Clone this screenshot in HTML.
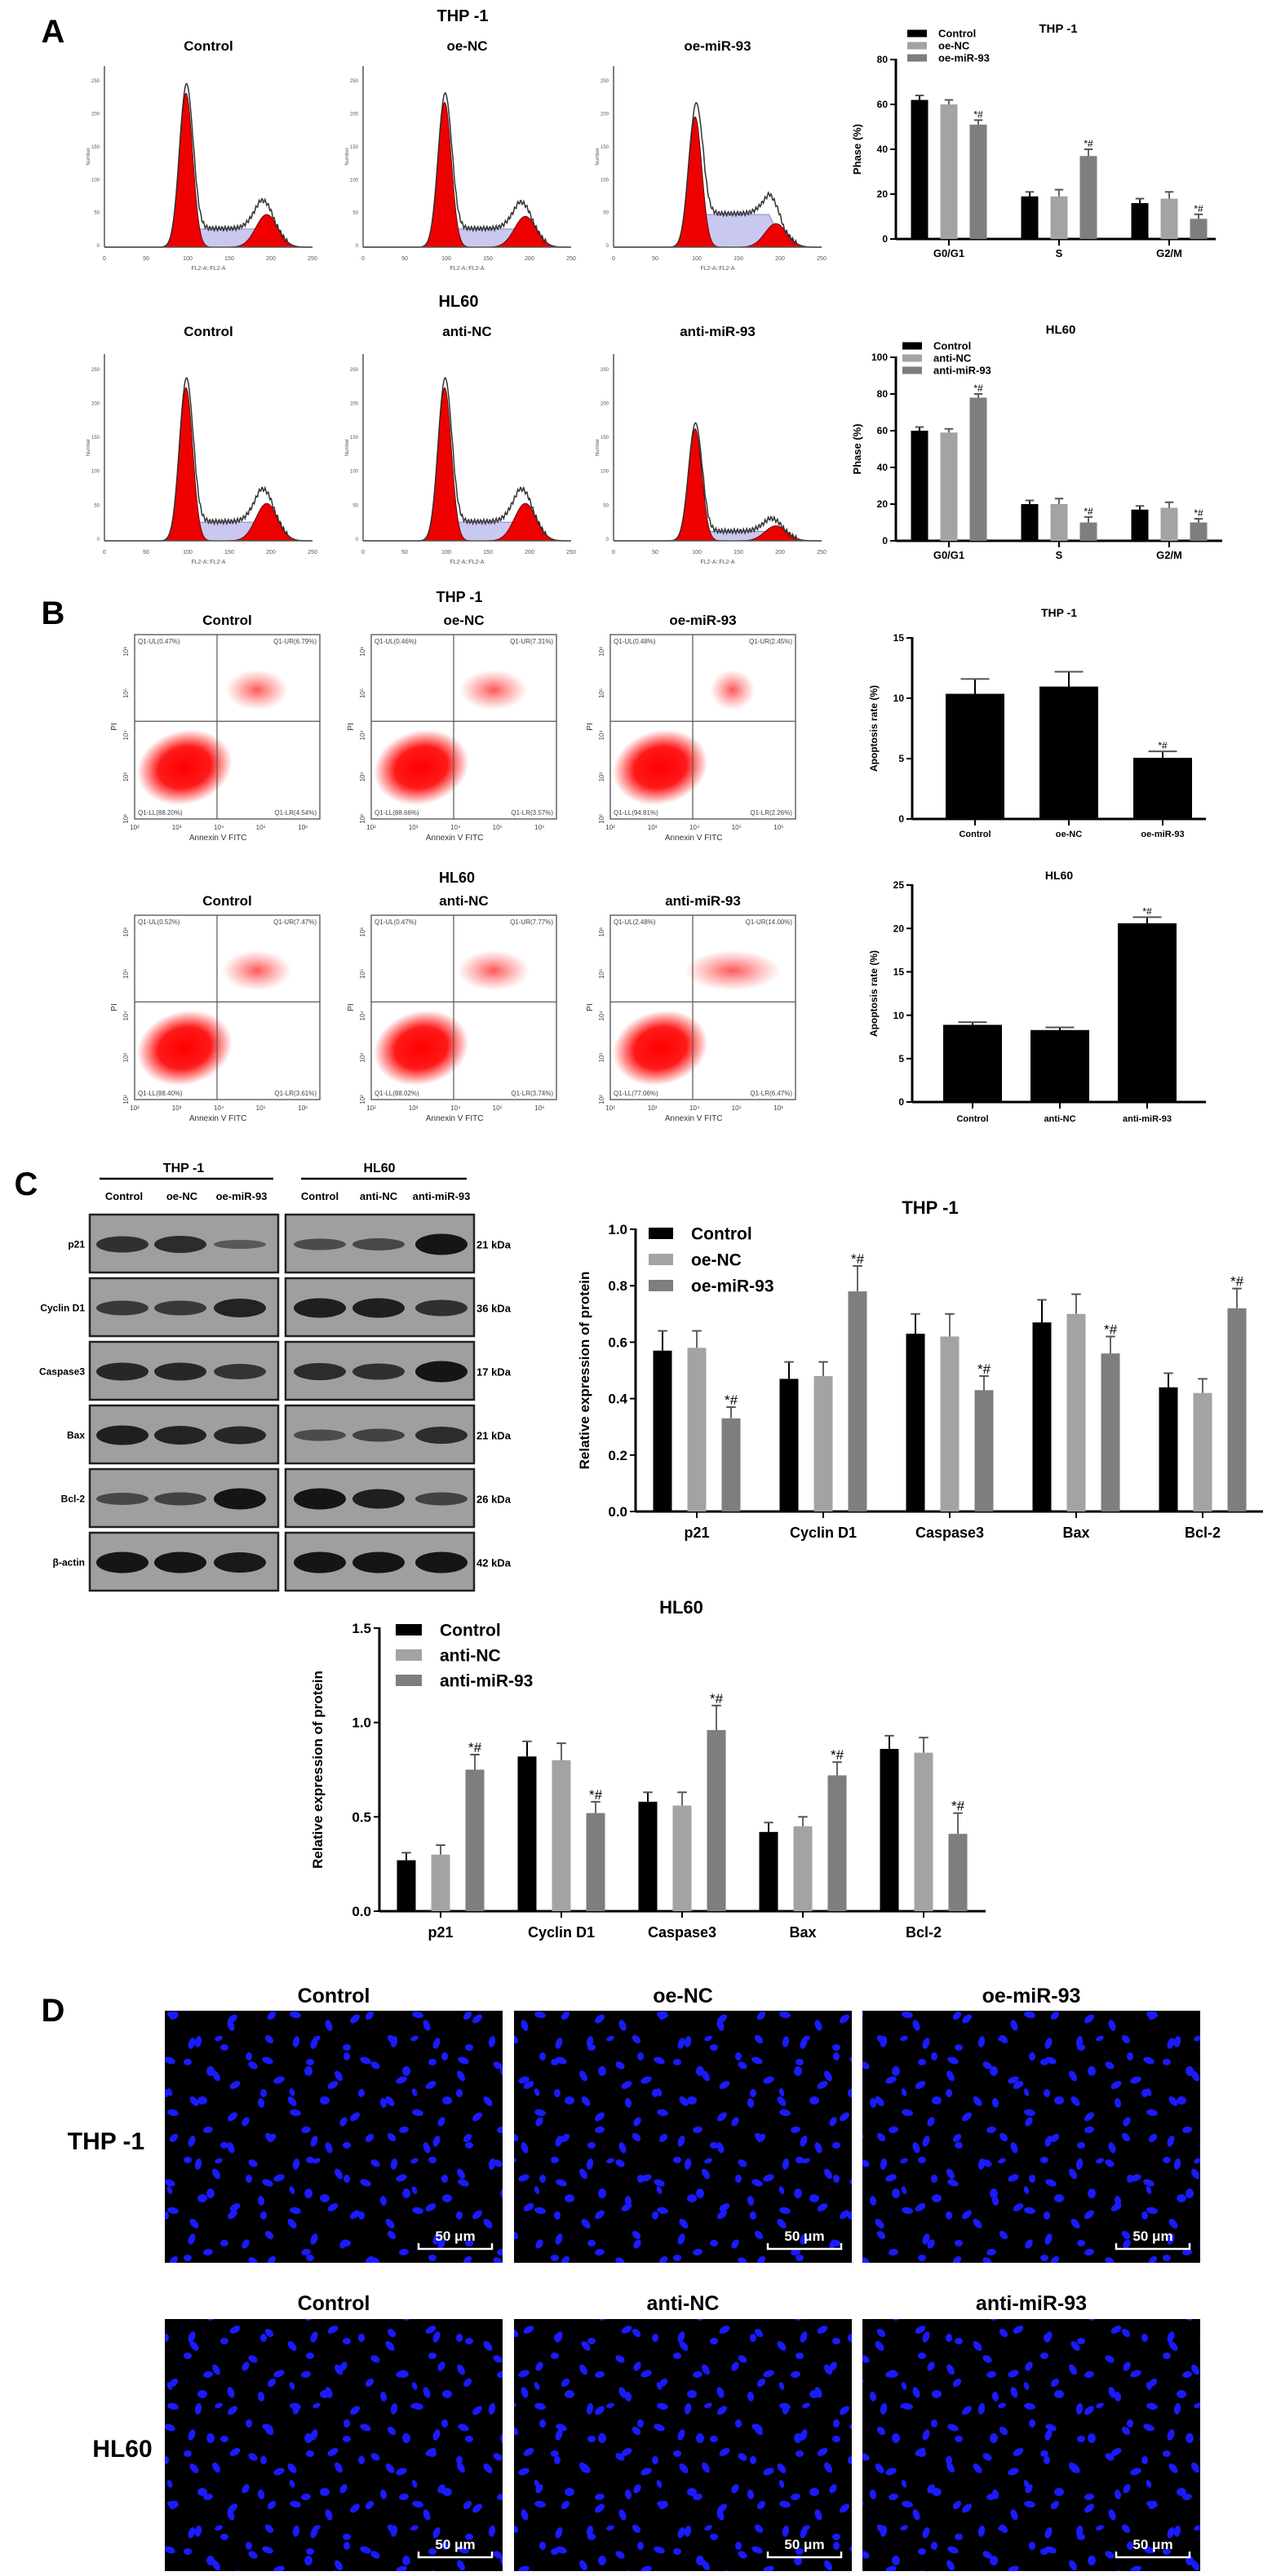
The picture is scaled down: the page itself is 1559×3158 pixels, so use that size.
<!DOCTYPE html>
<html><head><meta charset="utf-8">
<style>
html,body{margin:0;padding:0;background:#fff;}
svg{display:block;font-family:"Liberation Sans",Arial,sans-serif;}
</style></head>
<body>
<svg id="fig" width="1559" height="3158" viewBox="0 0 1559 3158" xmlns="http://www.w3.org/2000/svg">
<defs>
<pattern id="nuc" width="150" height="120" patternUnits="userSpaceOnUse">
<g fill="#1a1aff">
<ellipse cx="10" cy="12" rx="6" ry="4" transform="rotate(30 10 12)"/>
<ellipse cx="42" cy="30" rx="7" ry="4" transform="rotate(-20 42 30)"/>
<ellipse cx="80" cy="8" rx="5" ry="4"/>
<ellipse cx="115" cy="25" rx="7" ry="4" transform="rotate(60 115 25)"/>
<ellipse cx="20" cy="58" rx="6" ry="4" transform="rotate(80 20 58)"/>
<ellipse cx="62" cy="70" rx="7" ry="4" transform="rotate(10 62 70)"/>
<ellipse cx="98" cy="55" rx="6" ry="5"/>
<ellipse cx="135" cy="75" rx="7" ry="4" transform="rotate(-40 135 75)"/>
<ellipse cx="30" cy="100" rx="6" ry="4" transform="rotate(45 30 100)"/>
<ellipse cx="85" cy="105" rx="7" ry="4" transform="rotate(-70 85 105)"/>
<ellipse cx="125" cy="110" rx="5" ry="4"/>
<ellipse cx="58" cy="45" rx="5" ry="3" transform="rotate(70 58 45)"/>
</g>
</pattern>
<pattern id="nuc2" href="#nuc" patternTransform="translate(73,41) rotate(90)"/>
<radialGradient id="cloud"><stop offset="0" stop-color="#ff0000"/><stop offset="0.55" stop-color="#ff0000" stop-opacity="0.9"/><stop offset="1" stop-color="#ff0000" stop-opacity="0"/></radialGradient>
<radialGradient id="cloud2"><stop offset="0" stop-color="#ff2020" stop-opacity="0.75"/><stop offset="1" stop-color="#ff4040" stop-opacity="0"/></radialGradient>
</defs>
</svg>
<script>
const NS='http://www.w3.org/2000/svg';
const svg=document.getElementById('fig');
function mk(tag,attrs,parent,txt){const e=document.createElementNS(NS,tag);for(const k in attrs)e.setAttribute(k,attrs[k]);if(txt!==undefined)e.textContent=txt;(parent||svg).appendChild(e);return e;}
function T(x,y,s,size,anchor,name,extra){const e=mk('text',Object.assign({x:x,y:y,'font-size':size,'text-anchor':anchor||'middle','font-weight':'bold'},extra||{}),svg,s);


return e;}

// ---------- DATA ----------
const phaseCats=['G0/G1','S','G2/M'];
const thpPhaseCtrl=[62,19,16], thpPhaseNC=[60,19,18], thpPhaseMiR=[51,37,9];
const thpPhaseErr=[[2,2,2],[2,3,3],[2,3,2]];
const hlPhaseCtrl=[60,20,17], hlPhaseNC=[59,20,18], hlPhaseMiR=[78,10,10];
const hlPhaseErr=[[2,2,2],[2,3,3],[2,3,2]];
const thpPhaseTicks=[0,20,40,60,80];
const hlPhaseTicks=[0,20,40,60,80,100];
const apoCatsThp=['Control','oe-NC','oe-miR-93'];
const apoCatsHl=['Control','anti-NC','anti-miR-93'];
const thpApo=[10.3,10.9,5.0], thpApoErr=[1.3,1.3,0.6];
const hlApo=[8.8,8.2,20.5], hlApoErr=[0.4,0.4,0.8];
const thpApoTicks=[0,5,10,15];
const hlApoTicks=[0,5,10,15,20,25];
const protCats=['p21','Cyclin D1','Caspase3','Bax','Bcl-2'];
const thpProtCtrl=[0.57,0.47,0.63,0.67,0.44], thpProtNC=[0.58,0.48,0.62,0.70,0.42], thpProtMiR=[0.33,0.78,0.43,0.56,0.72];
const thpProtErr=[[0.07,0.06,0.07,0.08,0.05],[0.06,0.05,0.08,0.07,0.05],[0.04,0.09,0.05,0.06,0.07]];
const hlProtCtrl=[0.27,0.82,0.58,0.42,0.86], hlProtNC=[0.30,0.80,0.56,0.45,0.84], hlProtMiR=[0.75,0.52,0.96,0.72,0.41];
const hlProtErr=[[0.04,0.08,0.05,0.05,0.07],[0.05,0.09,0.07,0.05,0.08],[0.08,0.06,0.13,0.07,0.11]];
const thpProtTicks=['0.0','0.2','0.4','0.6','0.8','1.0'];
const hlProtTicks=['0.0','0.5','1.0','1.5'];
const histG1=[0.85,0.8,0.72,0.82,0.82,0.6];
const histS=[0.1,0.1,0.18,0.1,0.1,0.05];
const histG2=[0.18,0.17,0.13,0.2,0.2,0.08];
const dotUL=['0.47','0.46','0.48','0.52','0.47','2.48'];
const dotUR=['6.79','7.31','2.45','7.47','7.77','14.00'];
const dotLL=['88.20','88.66','94.81','88.40','88.02','77.06'];
const dotLR=['4.54','3.57','2.26','3.61','3.74','6.47'];
const blotRows=['p21','Cyclin D1','Caspase3','Bax','Bcl-2','β-actin'];
const blotKda=['21 kDa','36 kDa','17 kDa','21 kDa','26 kDa','42 kDa'];
const blotInt=[[0.7,0.75,0.25,0.4,0.45,1],[0.6,0.6,0.85,0.9,0.9,0.7],[0.8,0.8,0.65,0.75,0.7,1],[0.9,0.85,0.8,0.4,0.5,0.75],[0.45,0.5,1,1,0.9,0.5],[1,1,0.95,1,1,1]];

const COL=['#000000','#a3a3a3','#7e7e7e'];

function barChart(o){
 const g=mk('g',{});
 
 
 const y=v=>o.y0-(v-o.min)/(o.max-o.min)*(o.y0-o.y1);
 const ay=mk('line',{x1:o.ax,y1:o.y1-1,x2:o.ax,y2:o.y0,stroke:'#000','stroke-width':o.aw||3},g);
 
 
 const ax=mk('line',{x1:o.ax,y1:o.y0,x2:o.axEnd,y2:o.y0,stroke:'#000','stroke-width':o.aw||3},g);
 
 
 o.ticks.forEach(t=>{const yy=y(parseFloat(t));
  mk('line',{x1:o.ax-7,y1:yy,x2:o.ax,y2:yy,stroke:'#000','stroke-width':2},g);
  const tx=mk('text',{x:o.ax-10,y:yy+o.fs*0.35,'font-size':o.fs,'text-anchor':'end','font-weight':'bold'},g,t);
  
  
 });
 o.cats.forEach((c,i)=>{const cx=o.gx0+i*o.gstep;
  mk('line',{x1:cx,y1:o.y0,x2:cx,y2:o.y0+8,stroke:'#000','stroke-width':2},g);
  const tx=mk('text',{x:cx,y:o.y0+o.labDy,'font-size':o.lfs||o.fs,'text-anchor':'middle','font-weight':'bold'},g,c);
  
  
  o.series.forEach((s,j)=>{
   const v=s[i]; const bx=cx+(j-(o.series.length-1)/2)*o.bstep-o.bw/2;
   const r=mk('rect',{x:bx,y:y(v),width:o.bw,height:o.y0-y(v),fill:COL[j],stroke:o.stroke||'none','stroke-width':2},g);
   
   
   const e=o.err[j][i]; const ey=y(v+e); const mx=bx+o.bw/2;
   mk('line',{x1:mx,y1:y(v),x2:mx,y2:ey,stroke:COL[j]==='#000000'?'#000':'#666','stroke-width':2},g);
   mk('line',{x1:mx-o.bw*0.25,y1:ey,x2:mx+o.bw*0.25,y2:ey,stroke:'#555','stroke-width':2},g);
   if(o.sig && o.sig[i]===j){const st=mk('text',{x:mx,y:ey-3,'font-size':o.sfs,'text-anchor':'middle'},g,'*#');
    
    }
  });
 });
 if(o.ytitle){const yt=mk('text',{x:0,y:0,'font-size':o.yfs,'text-anchor':'middle','font-weight':'bold',transform:`translate(${o.ytx},${(o.y0+o.y1)/2}) rotate(-90)`},g,o.ytitle);
  
  }
 if(o.title){const tt=mk('text',{x:o.tx,y:o.ty,'font-size':o.tfs,'text-anchor':'middle','font-weight':'bold'},g,o.title);
  
  }
 if(o.legend){o.legend.forEach((l,j)=>{const ly=o.ly+j*o.lstep;
  const sw=mk('rect',{x:o.lx,y:ly-o.lh/2,width:o.lw,height:o.lh,fill:COL[j]},g);
  
  
  const lt=mk('text',{x:o.lx+o.lw+o.lgap,y:ly+o.lfs2*0.35,'font-size':o.lfs2,'font-weight':'bold'},g,l);
  
  });}
}

T(65,52,'A',40,'middle','panel-label-a');
T(65,765,'B',40,'middle','panel-label-b');
T(32,1465,'C',40,'middle','panel-label-c');
T(65,2478,'D',40,'middle','panel-label-d');

// ---------- Panel A histograms ----------
const histCols=[128,445,752];
const histW=255;
const histNames=[['Control','oe-NC','oe-miR-93'],['Control','anti-NC','anti-miR-93']];
const histRows=[{top:81,base:303,title:62},{top:434,base:663,title:412}];
T(567,26,'THP -1',20,'middle','thp1-title-a');
T(562,376,'HL60',20,'middle','hl60-title-a');
function gauss(x,m,s){return Math.exp(-0.5*((x-m)/s)**2);}
function sRamp(v,i){return histS[i]*Math.max(0,Math.min(1,(v-95)/12))*Math.max(0,Math.min(1,(205-v)/18));}
histRows.forEach((row,r)=>{histCols.forEach((x0,c)=>{
 const idx=r*3+c; const H=row.base-row.top;
 T(x0+histW/2,row.title,histNames[r][c],17,'middle','histogram-title');
 const g=mk('g',{});  
 const X=v=>x0+v/250*histW; const Y=f=>row.base-f*H;
 let sp=`M${X(95)},${row.base}`;
 for(let v=95;v<=210;v+=2){sp+=` L${X(v)},${Y(sRamp(v,idx))}`;}
 mk('path',{d:sp+' Z',fill:'#c8c8f0',stroke:'#8888cc','stroke-width':1},g);
 let g1=`M${X(70)},${row.base}`, g2=`M${X(150)},${row.base}`, out=`M${X(0)},${row.base}`;
 for(let v=70;v<=135;v+=1) g1+=` L${X(v)},${Y(histG1[idx]*gauss(v,98,8))}`;
 for(let v=150;v<=240;v+=1) g2+=` L${X(v)},${Y(histG2[idx]*gauss(v,195,13))}`;
 for(let v=0;v<=250;v+=1){const f=histG1[idx]*gauss(v,98,8)+histG2[idx]*gauss(v,195,13)+sRamp(v,idx);out+=` L${X(v)},${Y(f*1.03+0.012*Math.sin(v*1.7)*(v>105&&v<220?1:0))}`;}
 mk('path',{d:g1+' Z',fill:'#ee0000',stroke:'#600','stroke-width':1},g);
 mk('path',{d:g2+' Z',fill:'#ee0000',stroke:'#600','stroke-width':1},g);
 mk('path',{d:out,fill:'none',stroke:'#333','stroke-width':1.5},g);
 mk('line',{x1:x0,y1:row.top,x2:x0,y2:row.base,stroke:'#555','stroke-width':1.5},g);
 mk('line',{x1:x0,y1:row.base,x2:x0+histW,y2:row.base,stroke:'#555','stroke-width':1.5},g);
 for(let v=0;v<=250;v+=50){mk('text',{x:X(v),y:row.base+16,'font-size':7,'text-anchor':'middle',fill:'#555'},g,String(v));}
 for(let k=0;k<=5;k++){mk('text',{x:x0-6,y:row.base-k*H/5.5,'font-size':6,'text-anchor':'end',fill:'#555'},g,String(k*50));}
 mk('text',{x:x0+histW/2,y:row.base+28,'font-size':7,'text-anchor':'middle',fill:'#555'},g,'FL2-A::FL2-A');
 mk('text',{x:0,y:0,'font-size':6,'text-anchor':'middle',fill:'#555',transform:`translate(${x0-18},${(row.top+row.base)/2}) rotate(-90)`},g,'Number');
});});

barChart({name:'thp1-phase-chart',cats:phaseCats,series:[thpPhaseCtrl,thpPhaseNC,thpPhaseMiR],err:thpPhaseErr,ticks:thpPhaseTicks.map(String),min:0,max:80,
 ax:1098,axEnd:1490,y0:293,y1:73,gx0:1163,gstep:135,bw:21,bstep:36,fs:12,lfs:13,labDy:22,sfs:12,sig:[2,2,2],
 ytitle:'Phase (%)',ytx:1055,yfs:13,title:'THP -1',tx:1297,ty:40,tfs:15,legend:['Control','oe-NC','oe-miR-93'],lx:1112,ly:41,lstep:15,lw:24,lh:9,lgap:14,lfs2:13});
barChart({name:'hl60-phase-chart',cats:phaseCats,series:[hlPhaseCtrl,hlPhaseNC,hlPhaseMiR],err:hlPhaseErr,ticks:hlPhaseTicks.map(String),min:0,max:100,
 ax:1098,axEnd:1498,y0:663,y1:438,gx0:1163,gstep:135,bw:21,bstep:36,fs:12,lfs:13,labDy:22,sfs:12,sig:[2,2,2],
 ytitle:'Phase (%)',ytx:1055,yfs:13,title:'HL60',tx:1300,ty:409,tfs:15,legend:['Control','anti-NC','anti-miR-93'],lx:1106,ly:424,lstep:15,lw:24,lh:9,lgap:14,lfs2:13});

// ---------- Panel B dot plots ----------
const dotCols=[165,455,748];
const dotW=227;
const dotNames=[['Control','oe-NC','oe-miR-93'],['Control','anti-NC','anti-miR-93']];
const dotRowsY=[{top:778,bot:1004,title:766},{top:1122,bot:1348,title:1110}];
T(563,738,'THP -1',18,'middle','thp1-title-b');
T(560,1082,'HL60',18,'middle','hl60-title-b');
dotRowsY.forEach((row,r)=>{dotCols.forEach((x0,c)=>{
 const idx=r*3+c; const H=row.bot-row.top;
 T(x0+dotW/2,row.title,dotNames[r][c],17,'middle','dotplot-title');
 const g=mk('g',{});  
 mk('rect',{x:x0,y:row.top,width:dotW,height:H,fill:'#fff',stroke:'#666','stroke-width':1.5},g);
 const qx=x0+dotW*0.445, qy=row.top+H*0.47;
 mk('ellipse',{cx:x0+dotW*0.27,cy:row.top+H*0.72,rx:dotW*0.26,ry:H*0.2,fill:'url(#cloud)',transform:`rotate(-15 ${x0+dotW*0.27} ${row.top+H*0.72})`},g);
 const urS=parseFloat(dotUR[idx])/8;
 mk('ellipse',{cx:x0+dotW*0.66,cy:row.top+H*0.3,rx:dotW*0.2*Math.max(0.6,Math.min(1.3,urS)),ry:H*0.11,fill:'url(#cloud2)'},g);
 mk('line',{x1:qx,y1:row.top,x2:qx,y2:row.bot,stroke:'#555','stroke-width':1.2},g);
 mk('line',{x1:x0,y1:qy,x2:x0+dotW,y2:qy,stroke:'#555','stroke-width':1.2},g);
 mk('text',{x:x0+4,y:row.top+11,'font-size':8,fill:'#444'},g,`Q1-UL(${dotUL[idx]}%)`);
 mk('text',{x:x0+dotW-4,y:row.top+11,'font-size':8,fill:'#444','text-anchor':'end'},g,`Q1-UR(${dotUR[idx]}%)`);
 mk('text',{x:x0+4,y:row.bot-5,'font-size':8,fill:'#444'},g,`Q1-LL(${dotLL[idx]}%)`);
 mk('text',{x:x0+dotW-4,y:row.bot-5,'font-size':8,fill:'#444','text-anchor':'end'},g,`Q1-LR(${dotLR[idx]}%)`);
 ['10²','10³','10⁴','10⁵','10⁶'].forEach((l,k)=>{mk('text',{x:x0+k*dotW/4.4,y:row.bot+13,'font-size':8,'text-anchor':'middle',fill:'#444'},g,l);
  mk('text',{x:0,y:0,'font-size':8,'text-anchor':'middle',fill:'#444',transform:`translate(${x0-8},${row.bot-k*H/4.4}) rotate(-90)`},g,l);});
 mk('text',{x:x0+dotW*0.45,y:row.bot+26,'font-size':10,'text-anchor':'middle',fill:'#333'},g,'Annexin V FITC');
 mk('text',{x:0,y:0,'font-size':10,'text-anchor':'middle',fill:'#333',transform:`translate(${x0-22},${(row.top+row.bot)/2}) rotate(-90)`},g,'PI');
});});

barChart({name:'thp1-apoptosis-chart',cats:apoCatsThp,series:[thpApo],err:[thpApoErr],ticks:thpApoTicks.map(String),min:0,max:15,
 ax:1118,axEnd:1478,y0:1004,y1:782,gx0:1195,gstep:115,bw:70,bstep:0,fs:12,lfs:11,labDy:22,sfs:12,sig:[-1,-1,0],stroke:'#000',
 ytitle:'Apoptosis rate (%)',ytx:1075,yfs:12,title:'THP -1',tx:1298,ty:756,tfs:14});
barChart({name:'hl60-apoptosis-chart',cats:apoCatsHl,series:[hlApo],err:[hlApoErr],ticks:hlApoTicks.map(String),min:0,max:25,
 ax:1118,axEnd:1478,y0:1351,y1:1085,gx0:1192,gstep:107,bw:70,bstep:0,fs:12,lfs:11,labDy:24,sfs:12,sig:[-1,-1,0],stroke:'#000',
 ytitle:'Apoptosis rate (%)',ytx:1075,yfs:12,title:'HL60',tx:1298,ty:1078,tfs:14});

// ---------- Panel C blots ----------
T(225,1437,'THP -1',16,'middle','blot-thp1-header');
T(465,1437,'HL60',16,'middle','blot-hl60-header');
mk('line',{x1:122,y1:1445,x2:335,y2:1445,stroke:'#000','stroke-width':2.5});
mk('line',{x1:369,y1:1445,x2:572,y2:1445,stroke:'#000','stroke-width':2.5});
const laneNames=['Control','oe-NC','oe-miR-93','Control','anti-NC','anti-miR-93'];
const laneX=[152,223,296,392,464,541];
laneNames.forEach((n,i)=>T(laneX[i],1471,n,13,'middle','blot-lane-label'));
blotRows.forEach((rn,r)=>{
 const top=1489+r*78, h=71;
 T(104,top+h/2+5,rn,12,'end','blot-row-label');
 T(584,top+h/2+6,blotKda[r],13,'start','blot-kda-label');
 [[110,341],[350,581]].forEach((p,pi)=>{
  const g=mk('g',{});  
  mk('rect',{x:p[0],y:top,width:p[1]-p[0],height:h,fill:'#9f9f9f',stroke:'#222','stroke-width':2.5},g);
  for(let l=0;l<3;l++){const v=blotInt[r][pi*3+l]; const cx=laneX[pi*3+l]+(pi===0?-2:0);
   mk('ellipse',{cx:cx,cy:top+h/2+1,rx:32,ry:3+v*10,fill:'#151515','fill-opacity':0.35+0.65*v},g);}
 });
});

barChart({name:'thp1-protein-chart',cats:protCats,series:[thpProtCtrl,thpProtNC,thpProtMiR],err:thpProtErr,ticks:thpProtTicks,min:0,max:1,
 ax:779,axEnd:1548,y0:1853,y1:1507,gx0:854,gstep:155,bw:23,bstep:42,fs:17,lfs:18,labDy:32,sfs:17,sig:[2,2,2,2,2],
 ytitle:'Relative expression of protein',ytx:722,yfs:17,title:'THP -1',tx:1140,ty:1488,tfs:22,legend:['Control','oe-NC','oe-miR-93'],lx:795,ly:1512,lstep:32,lw:30,lh:14,lgap:22,lfs2:21});
barChart({name:'hl60-protein-chart',cats:protCats,series:[hlProtCtrl,hlProtNC,hlProtMiR],err:hlProtErr,ticks:hlProtTicks,min:0,max:1.5,
 ax:465,axEnd:1208,y0:2343,y1:1996,gx0:540,gstep:148,bw:23,bstep:42,fs:17,lfs:18,labDy:32,sfs:17,sig:[2,2,2,2,2],
 ytitle:'Relative expression of protein',ytx:395,yfs:17,title:'HL60',tx:835,ty:1978,tfs:22,legend:['Control','anti-NC','anti-miR-93'],lx:485,ly:1998,lstep:31,lw:32,lh:14,lgap:22,lfs2:21});

// ---------- Panel D fluorescence ----------
const flCols=[202,630,1057];
const flW=414;
const flNames=[['Control','oe-NC','oe-miR-93'],['Control','anti-NC','anti-miR-93']];
const flRows=[{top:2465,bot:2774,title:2455,lab:'THP -1',ly:2635,lx:130},{top:2843,bot:3152,title:2832,lab:'HL60',ly:3012,lx:150}];
flRows.forEach((row,r)=>{
 T(row.lx,row.ly,row.lab,30,'middle','row-label-'+row.lab.toLowerCase().replace(/\s+/g,''));
 flCols.forEach((x0,c)=>{
 T(x0+flW/2,row.title,flNames[r][c],25,'middle','fluorescence-title');
 const g=mk('g',{});  
 mk('rect',{x:x0,y:row.top,width:flW,height:row.bot-row.top,fill:'#000'},g);
 mk('rect',{x:x0,y:row.top,width:flW,height:row.bot-row.top,fill:'url(#nuc)'},g);
 mk('rect',{x:x0,y:row.top,width:flW,height:row.bot-row.top,fill:'url(#nuc2)'},g);
 const sx=x0+flW-103, sy=row.bot-17;
 mk('path',{d:`M${sx},${sy-7} V${sy} H${sx+90} V${sy-7}`,fill:'none',stroke:'#fff','stroke-width':2.5},g);
 const st=mk('text',{x:sx+45,y:sy-10,'font-size':17,'text-anchor':'middle','font-weight':'bold',fill:'#fff'},g,'50 μm');
 
 
 });
});
</script>
</body></html>
